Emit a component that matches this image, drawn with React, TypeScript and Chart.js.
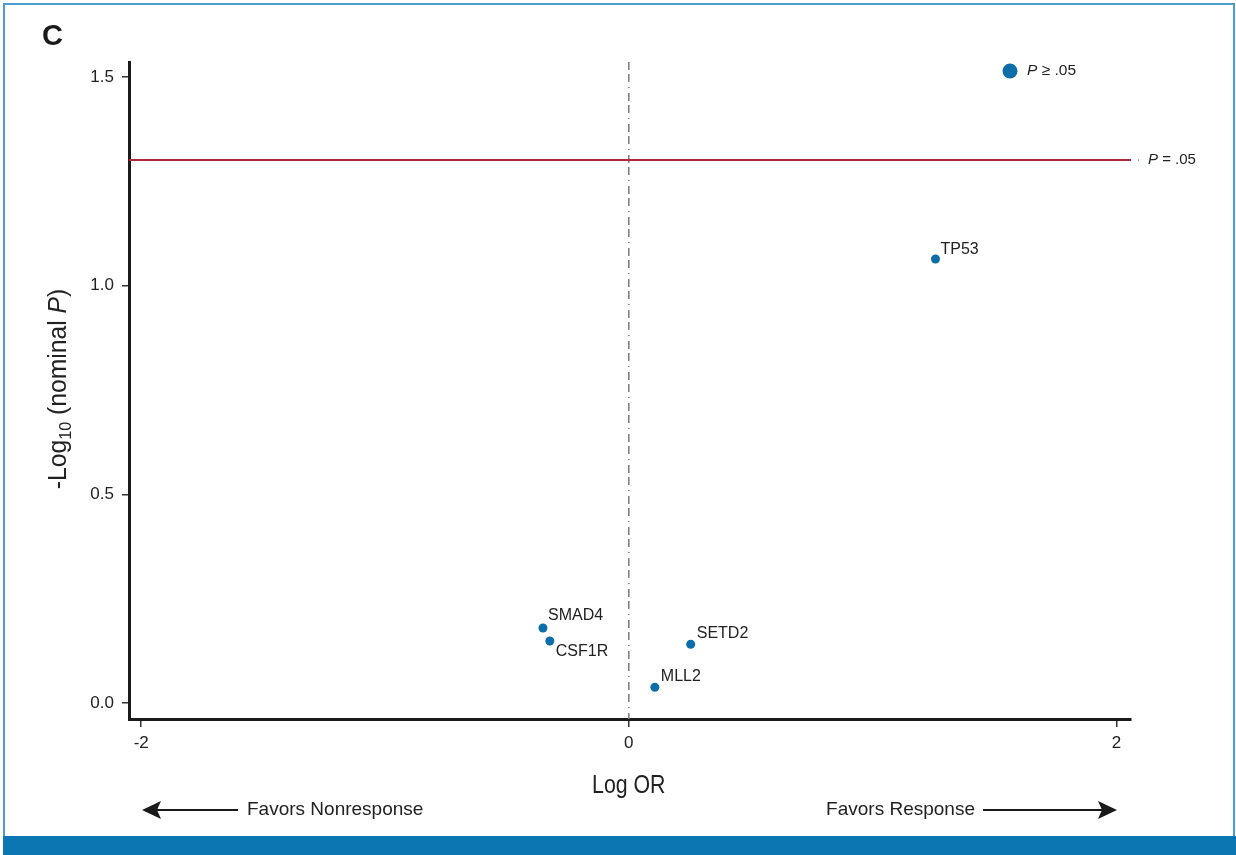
import React, { useEffect, useRef } from "react";
import { Chart, registerables } from "chart.js";

Chart.register(...registerables);

const genes = ["TP53", "SMAD4", "CSF1R", "SETD2", "MLL2"];
const logOR = [1.258, -0.352, -0.324, 0.254, 0.107];
const negLogP = [1.064, 0.18, 0.149, 0.141, 0.038];
const xTicks = [-2, 0, 2];
const yTicks = [0, 0.5, 1.0, 1.5];
const threshold = 1.301; // -log10(0.05)

const labelOffsets: Record<string, [number, number]> = {
  TP53: [5, -9],
  SMAD4: [5, -12],
  CSF1R: [6, 11],
  SETD2: [6, -11],
  MLL2: [6, -11],
};

const BLUE = "#0b6ea8";
const RED = "#b0263a";
const SANS = "'Liberation Sans', Arial, Helvetica, sans-serif";

function drawCondensed(ctx: CanvasRenderingContext2D, parts: { t: string; size: number; italic?: boolean; dy?: number }[], cx: number, cy: number, sx: number) {
  let total = 0;
  for (const p of parts) {
    ctx.font = `${p.italic ? "italic " : ""}${p.size}px ${SANS}`;
    total += ctx.measureText(p.t).width;
  }
  ctx.save();
  ctx.translate(cx, cy);
  ctx.scale(sx, 1);
  let x = -total / 2;
  ctx.textBaseline = "alphabetic";
  ctx.textAlign = "left";
  for (const p of parts) {
    ctx.font = `${p.italic ? "italic " : ""}${p.size}px ${SANS}`;
    ctx.fillText(p.t, x, p.dy || 0);
    x += ctx.measureText(p.t).width;
  }
  ctx.restore();
}

const decorPlugin = {
  id: "decor",
  beforeDraw(chart: any) {
    const ctx = chart.ctx as CanvasRenderingContext2D;
    ctx.save();
    ctx.fillStyle = "#ffffff";
    ctx.fillRect(0, 0, chart.width, chart.height);
    ctx.strokeStyle = "#4a9fd0";
    ctx.lineWidth = 2;
    ctx.beginPath();
    ctx.moveTo(4, 836);
    ctx.lineTo(4, 4);
    ctx.lineTo(1234, 4);
    ctx.lineTo(1234, 836);
    ctx.stroke();
    ctx.fillStyle = "#0a77b3";
    ctx.fillRect(3, 836, 1233, 19);
    ctx.restore();
  },
  beforeDatasetsDraw(chart: any) {
    const ctx = chart.ctx as CanvasRenderingContext2D;
    const { chartArea, scales } = chart;
    const x0 = scales.x.getPixelForValue(0);
    ctx.save();
    ctx.strokeStyle = "#808080";
    ctx.lineWidth = 1.6;
    ctx.setLineDash([8, 4, 8, 5, 1, 5]);
    ctx.beginPath();
    ctx.moveTo(x0, chartArea.top);
    ctx.lineTo(x0, chartArea.bottom);
    ctx.stroke();
    ctx.setLineDash([]);
    const yT = scales.y.getPixelForValue(threshold);
    ctx.strokeStyle = RED;
    ctx.lineWidth = 2;
    ctx.beginPath();
    ctx.moveTo(chartArea.left, yT);
    ctx.lineTo(chartArea.right, yT);
    ctx.stroke();
    ctx.fillStyle = RED;
    ctx.fillRect(chartArea.right + 7, yT - 0.5, 1, 1);
    ctx.restore();
  },
  afterDatasetsDraw(chart: any) {
    const ctx = chart.ctx as CanvasRenderingContext2D;
    const { chartArea, scales } = chart;
    const meta = chart.getDatasetMeta(0);
    ctx.save();
    ctx.fillStyle = "#222222";
    ctx.font = `16px ${SANS}`;
    ctx.textBaseline = "middle";
    ctx.textAlign = "left";
    meta.data.forEach((el: any, i: number) => {
      const name = genes[i];
      const [dx, dy] = labelOffsets[name];
      ctx.fillText(name, el.x + dx, el.y + dy);
    });
    const yT = scales.y.getPixelForValue(threshold);
    let x = chartArea.right + 17;
    ctx.font = `italic 15px ${SANS}`;
    ctx.fillText("P", x, yT);
    x += ctx.measureText("P").width;
    ctx.font = `15px ${SANS}`;
    ctx.fillText(" = .05", x, yT);
    ctx.fillStyle = BLUE;
    ctx.beginPath();
    ctx.arc(1010, 71, 7.5, 0, Math.PI * 2);
    ctx.fill();
    ctx.fillStyle = "#222222";
    x = 1027;
    ctx.font = `italic 15.5px ${SANS}`;
    ctx.fillText("P", x, 71);
    x += ctx.measureText("P").width;
    ctx.font = `15.5px ${SANS}`;
    ctx.fillText(" \u2265 .05", x, 71);
    ctx.font = `bold 29px ${SANS}`;
    ctx.fillStyle = "#1a1a1a";
    ctx.fillText("C", 42, 37);
    ctx.fillStyle = "#222222";
    drawCondensed(ctx, [{ t: "Log OR", size: 26 }], scales.x.getPixelForValue(0), 793, 0.82);
    ctx.save();
    ctx.translate(66, 389);
    ctx.rotate(-Math.PI / 2);
    drawCondensed(ctx, [
      { t: "-Log", size: 26 },
      { t: "10", size: 17, dy: 5 },
      { t: " (nominal ", size: 26 },
      { t: "P", size: 26, italic: true },
      { t: ")", size: 26 },
    ], 0, 0, 0.95);
    ctx.restore();
    ctx.strokeStyle = "#1a1a1a";
    ctx.fillStyle = "#1a1a1a";
    ctx.lineWidth = 2;
    const ay = 810;
    ctx.beginPath();
    ctx.moveTo(155, ay);
    ctx.lineTo(238, ay);
    ctx.stroke();
    ctx.beginPath();
    ctx.moveTo(142, ay);
    ctx.lineTo(161, ay - 9);
    ctx.lineTo(157, ay);
    ctx.lineTo(161, ay + 9);
    ctx.closePath();
    ctx.fill();
    ctx.beginPath();
    ctx.moveTo(983, ay);
    ctx.lineTo(1104, ay);
    ctx.stroke();
    ctx.beginPath();
    ctx.moveTo(1117, ay);
    ctx.lineTo(1098, ay - 9);
    ctx.lineTo(1102, ay);
    ctx.lineTo(1098, ay + 9);
    ctx.closePath();
    ctx.fill();
    ctx.fillStyle = "#222222";
    ctx.font = `19px ${SANS}`;
    ctx.textBaseline = "middle";
    ctx.textAlign = "left";
    ctx.fillText("Favors Nonresponse", 247, ay);
    ctx.textAlign = "right";
    ctx.fillText("Favors Response", 975, ay);
    ctx.restore();
  },
};

export default function App() {
  const ref = useRef<HTMLCanvasElement>(null);
  useEffect(() => {
    if (!ref.current) return;
    const chart = new Chart(ref.current, {
      type: "scatter",
      data: {
        datasets: [
          {
            data: logOR.map((v, i) => ({ x: v, y: negLogP[i] })),
            backgroundColor: BLUE,
            borderColor: BLUE,
            pointRadius: 4.5,
            borderWidth: 0,
          },
        ],
      },
      options: {
        animation: false,
        responsive: false,
        devicePixelRatio: 1,
        layout: { padding: { left: 0, top: 62, right: 105, bottom: 0 } },
        plugins: { legend: { display: false }, tooltip: { enabled: false } },
        scales: {
          x: {
            type: "linear",
            min: -2.05,
            max: 2.06,
            afterBuildTicks: (s: any) => {
              s.ticks = xTicks.map((v) => ({ value: v }));
            },
            afterFit: (s: any) => {
              s.height = 136;
            },
            ticks: {
              color: "#222222",
              font: { family: SANS, size: 17 },
              padding: 6,
              maxRotation: 0,
              callback: (v: any) => String(v),
            },
            grid: { drawOnChartArea: false, drawTicks: true, tickLength: 8, color: "#333333", lineWidth: 1.5 },
            border: { display: true, color: "#1a1a1a", width: 3 },
          },
          y: {
            type: "linear",
            min: -0.038,
            max: 1.536,
            afterBuildTicks: (s: any) => {
              s.ticks = yTicks.map((v) => ({ value: v }));
            },
            afterFit: (s: any) => {
              s.width = 129;
            },
            ticks: {
              color: "#222222",
              font: { family: SANS, size: 17 },
              padding: 8,
              callback: (v: any) => Number(v).toFixed(1),
            },
            grid: { drawOnChartArea: false, drawTicks: true, tickLength: 7, color: "#333333", lineWidth: 1.5 },
            border: { display: true, color: "#1a1a1a", width: 3 },
          },
        },
      },
      plugins: [decorPlugin],
    } as any);
    return () => chart.destroy();
  }, []);
  return (
    <div style={{ position: "absolute", left: 0, top: 0, width: 1236, height: 855 }}>
      <canvas ref={ref} width={1236} height={855} />
    </div>
  );
}
